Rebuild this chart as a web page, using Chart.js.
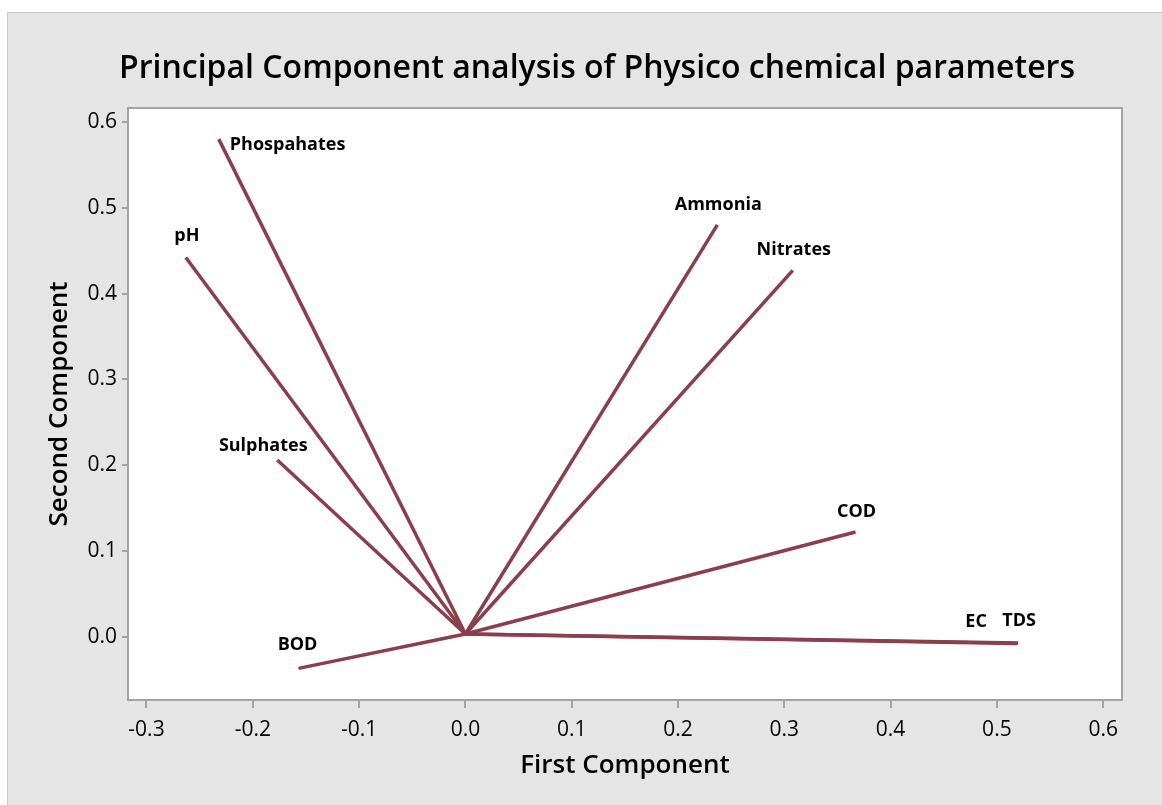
<!DOCTYPE html>
<html>
<head>
<meta charset="utf-8">
<script src="https://cdn.jsdelivr.net/npm/chart.js@4.4.1/dist/chart.umd.min.js"></script>
<style>
  html, body { margin: 0; padding: 0; background: #ffffff; }
  #wrap { width: 1162px; height: 805px; }
</style>
</head>
<body>
<div id="wrap"><canvas id="c" width="1162" height="805"></canvas></div>
<script>
// ---- data ----
const variables = ['Phospahates', 'pH', 'Ammonia', 'Nitrates', 'Sulphates', 'COD', 'BOD', 'EC', 'TDS'];
const firstComponent  = [-0.232, -0.263, 0.237, 0.308, -0.177, 0.367, -0.157, 0.519, 0.520];
const secondComponent = [ 0.580,  0.442, 0.480, 0.427,  0.206, 0.122, -0.037, -0.008, -0.0075];
const originX = 0.0;
const originY = 0.003;
const xTicks = [-0.3, -0.2, -0.1, 0.0, 0.1, 0.2, 0.3, 0.4, 0.5, 0.6];
const yTicks = [0.0, 0.1, 0.2, 0.3, 0.4, 0.5, 0.6];
const chartTitle = 'Principal Component analysis of Physico chemical parameters';
const xTitle = 'First Component';
const yTitle = 'Second Component';

// ---- styling ----
const LINE = '#8b3e4b';
const FONT = "'Open Sans', 'Noto Sans', sans-serif";
// label placement relative to the vector end (pixels): dx, dy, align
const labelPlacement = {
  'Phospahates': [11, 6, 'left'],
  'pH': [1, -22, 'center'],
  'Ammonia': [1, -20, 'center'],
  'Nitrates': [1, -20, 'center'],
  'Sulphates': [-14, -14, 'center'],
  'COD': [1, -20, 'center'],
  'BOD': [-1, -23, 'center'],
  'EC': [-41, -22, 'center'],
  'TDS': [1, -22, 'center']
};

const datasets = variables.map((name, i) => ({
  label: name,
  data: [{x: originX, y: originY}, {x: firstComponent[i], y: secondComponent[i]}],
  showLine: true,
  borderColor: LINE,
  backgroundColor: LINE,
  borderWidth: 3.5,
  pointRadius: 0,
  pointHoverRadius: 0,
  borderCapStyle: 'butt'
}));

const framePlugin = {
  id: 'frame',
  beforeDraw(chart) {
    const ctx = chart.ctx;
    ctx.save();
    ctx.fillStyle = '#ffffff';
    ctx.fillRect(0, 0, chart.width, chart.height);
    ctx.fillStyle = '#e5e5e5';
    ctx.fillRect(7, 12, chart.width - 7, chart.height - 12);
    ctx.strokeStyle = '#c9c9c9';
    ctx.lineWidth = 1;
    ctx.strokeRect(7.5, 12.5, chart.width, chart.height);
    const a = chart.chartArea;
    ctx.fillStyle = '#ffffff';
    ctx.fillRect(a.left, a.top, a.right - a.left, a.bottom - a.top);
    // chart title
    ctx.fillStyle = '#000000';
    ctx.font = `600 32px ${FONT}`;
    ctx.textAlign = 'center';
    ctx.textBaseline = 'middle';
    ctx.fillText(chartTitle, 597, 69);
    ctx.restore();
  },
  afterDraw(chart) {
    const ctx = chart.ctx;
    const a = chart.chartArea;
    ctx.save();
    ctx.strokeStyle = '#a3a3a3';
    ctx.lineWidth = 2;
    ctx.strokeRect(a.left, a.top, a.right - a.left, a.bottom - a.top);
    ctx.restore();
  },
  afterDatasetsDraw(chart) {
    const ctx = chart.ctx;
    const xs = chart.scales.x, ys = chart.scales.y;
    ctx.save();
    ctx.font = `bold 18px ${FONT}`;
    ctx.fillStyle = '#000000';
    ctx.textBaseline = 'middle';
    variables.forEach((name, i) => {
      const px = xs.getPixelForValue(firstComponent[i]);
      const py = ys.getPixelForValue(secondComponent[i]);
      const p = labelPlacement[name] || [0, -20, 'center'];
      ctx.textAlign = p[2];
      ctx.fillText(name, px + p[0], py + p[1]);
    });
    ctx.restore();
  }
};

new Chart(document.getElementById('c'), {
  type: 'scatter',
  data: { datasets },
  options: {
    responsive: false,
    animation: false,
    events: [],
    layout: { padding: { top: 108, right: 40, bottom: 0, left: 0 } },
    plugins: {
      legend: { display: false },
      tooltip: { enabled: false },
      title: { display: false }
    },
    scales: {
      x: {
        type: 'linear',
        min: -0.3174,
        max: 0.6177,
        afterFit(scale) { scale.height = 105; },
        afterBuildTicks(scale) { scale.ticks = xTicks.map(v => ({ value: v })); },
        ticks: {
          includeBounds: false,
          color: '#000000',
          font: { family: FONT, size: 21 },
          padding: 9,
          maxRotation: 0,
          callback: v => (Math.abs(v) < 1e-9 ? 0 : v).toFixed(1)
        },
        grid: { drawOnChartArea: false, drawTicks: true, tickLength: 8, color: '#a3a3a3', lineWidth: 2 },
        border: { display: true, color: '#a3a3a3', width: 2 },
        title: {
          display: true,
          text: xTitle,
          color: '#000000',
          font: { family: FONT, size: 26, weight: '600', lineHeight: 1.2 },
          padding: { top: 0, bottom: 24 }
        }
      },
      y: {
        type: 'linear',
        min: -0.0739,
        max: 0.6163,
        afterFit(scale) { scale.width = 128; },
        afterBuildTicks(scale) { scale.ticks = yTicks.map(v => ({ value: v })); },
        ticks: {
          includeBounds: false,
          color: '#000000',
          font: { family: FONT, size: 21 },
          padding: 5,
          callback: v => (Math.abs(v) < 1e-9 ? 0 : v).toFixed(1)
        },
        grid: { drawOnChartArea: false, drawTicks: true, tickLength: 6, color: '#a3a3a3', lineWidth: 2 },
        border: { display: true, color: '#a3a3a3', width: 2 },
        title: {
          display: true,
          text: yTitle,
          color: '#000000',
          font: { family: FONT, size: 26, weight: '600', lineHeight: 1.2 },
          padding: { top: 44, bottom: 0 }
        }
      }
    }
  },
  plugins: [framePlugin]
});
</script>
</body>
</html>
